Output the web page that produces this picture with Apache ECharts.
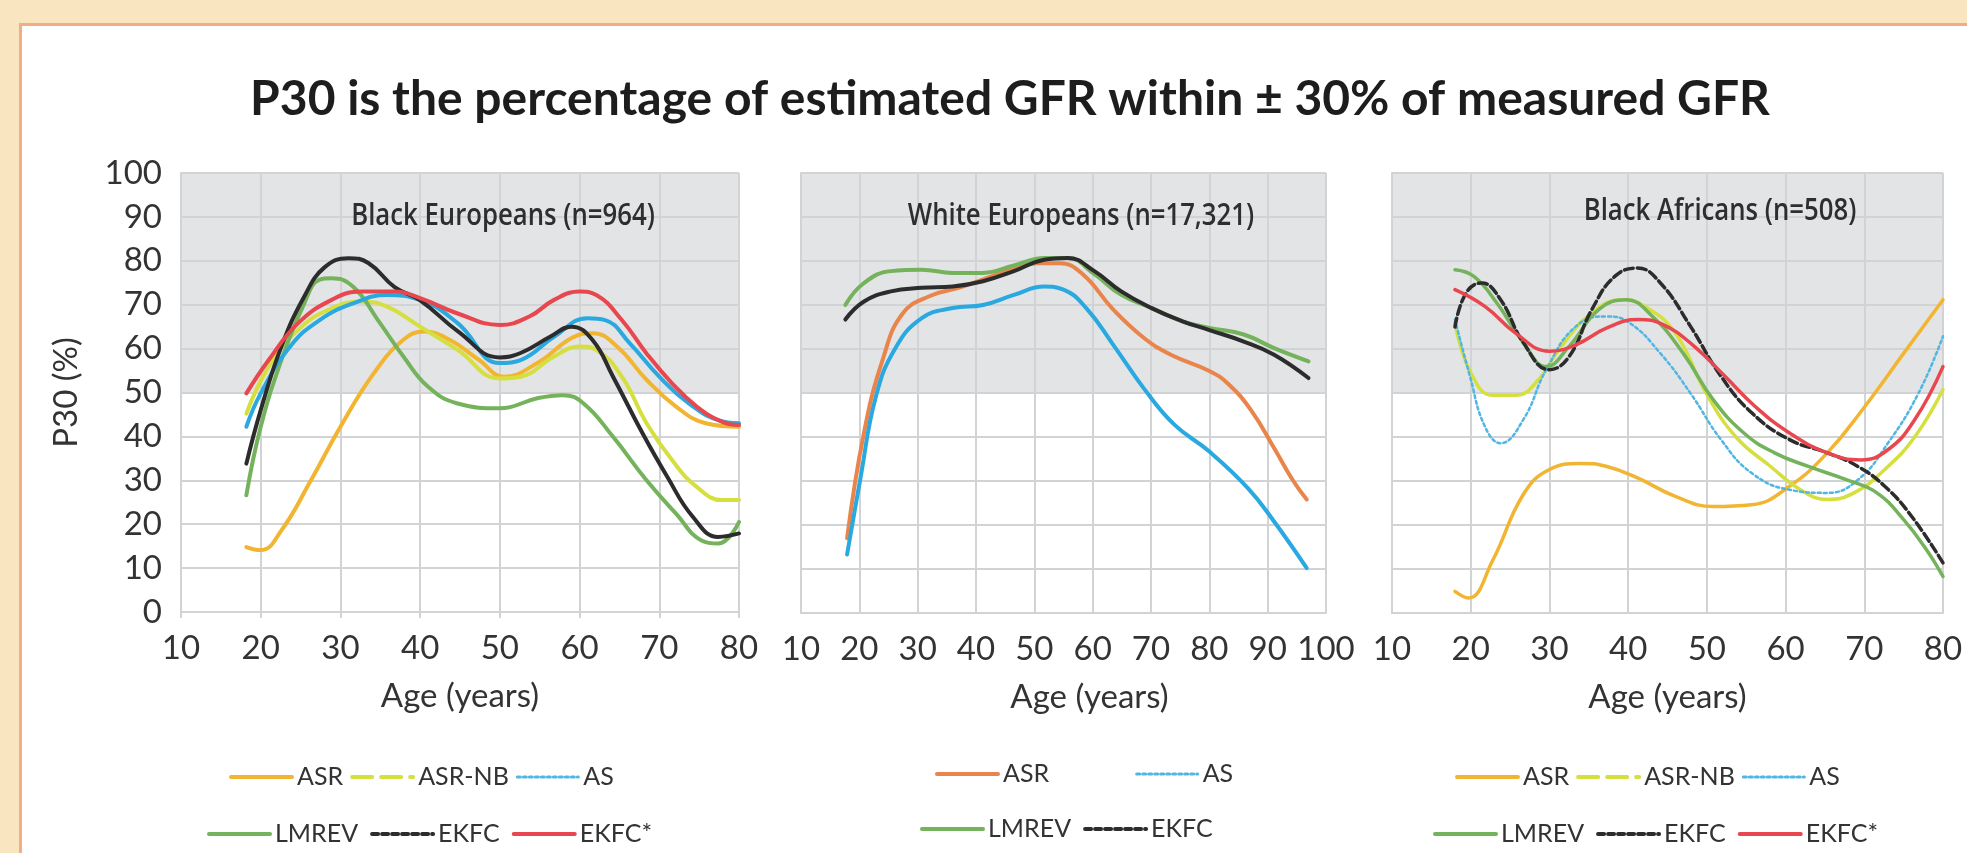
<!DOCTYPE html>
<html>
<head>
<meta charset="utf-8">
<title>P30 by age</title>
<script src="https://cdn.jsdelivr.net/npm/echarts@6/dist/echarts.min.js"></script>
<style>
  html, body { margin: 0; padding: 0; background: #ffffff; }
  #chart { width: 1967px; height: 853px; }
</style>
</head>
<body>
<div id="chart"></div>
<script>
// ---- Black Europeans (n=964): [age, P30 %] ----
const beASR    = [[18.2,14.8],[20,14.1],[22.6,18.6],[26.3,30],[30,42.2],[34.2,54.4],[37.9,62],[40.5,63.9],[43.7,62],[47.4,57.4],[50.5,53.6],[54.7,56.7],[59,62.4],[61.6,63.5],[64.7,60.5],[68.4,52.9],[72.1,46.8],[75.8,43],[80,42.2]];
const beASRNB  = [[18.2,45.2],[21,55.9],[24.7,64.3],[28.9,69.2],[32.6,70.7],[35.8,69.6],[40,65],[44.7,59.7],[50,53.2],[52.6,53.6],[56.8,58.2],[60,60.5],[62.1,59.7],[65.3,53.6],[68.4,43],[71.6,34.6],[74.7,28.5],[77.9,25.5],[80,25.5]];
const beAS     = [[18.2,42.2],[20,49.8],[23.7,60.5],[27.4,66.5],[31.6,70.3],[35.8,72.2],[40,71.1],[44.7,65.8],[50,56.7],[52.6,57.4],[56.8,62.7],[61,66.9],[63.2,66.5],[66.3,61.2],[70,53.6],[73.7,47.5],[77.4,43.7],[80,43]];
const beLMREV  = [[18.2,26.6],[20,42.2],[22.6,57.4],[25.3,69.6],[27.4,75.7],[28.9,76],[31.6,74.1],[34.7,66.5],[37.9,58.2],[41,51.3],[44.7,47.5],[50,46.4],[54.7,48.7],[57.9,49.4],[60.5,47.5],[64.2,39.9],[68.4,30],[72.1,22.4],[75.3,16.3],[77.4,15.6],[80,20.5]];
const beEKFC   = [[18.2,33.8],[20,46],[22.6,60.5],[25.5,72],[28,78.5],[31,80.6],[33.5,79.5],[36.8,74],[40,71],[44.7,64],[50,58],[52.6,59],[56.3,62.7],[59,65],[61.6,62],[64.2,53.6],[67.9,40.7],[71,30.8],[74.2,21.7],[77.4,17.1],[80,17.9]];
const beEKFCs  = [[18.2,49.8],[21,57.4],[24.7,65.8],[28.9,71.1],[32.6,73],[36.8,73],[40,71.5],[44.7,68],[50,65.4],[53.7,67.3],[56.8,71.1],[60,73],[62.1,72.2],[65.3,66.5],[68.4,58.9],[71.6,52.1],[74.7,46.8],[77.9,43.3],[80,42.6]];

// ---- White Europeans (n=17,321): [age, P30 %] ----
const weASR    = [[17.9,17],[20.8,41],[24.1,58],[27.4,68],[32,72],[37.3,74],[43.8,77],[50.4,79.5],[54.3,79.5],[58.3,77],[63.5,69],[68.8,62.5],[73.4,58.7],[80,55],[83.3,52],[87.2,46],[91.1,37.5],[94.4,30],[96.7,25.8]];
const weAS     = [[17.9,13.3],[20.2,30.7],[22.8,49],[26.1,60],[30.7,67],[36,69.3],[41.2,70],[46.5,72.3],[51.7,74.2],[55,73.5],[58.9,69.3],[63.5,61],[68.8,51],[74,42.8],[80,36.7],[86.6,28.4],[91.1,20.8],[96.7,10.2]];
const weLMREV  = [[17.6,70],[20.8,75],[25.4,77.7],[30.7,78],[36,77.3],[41.2,77.3],[46.5,79],[51.7,80.7],[55.7,80.7],[60.3,77],[64.9,72.3],[70.1,69.3],[75.4,66.3],[80,64.8],[85.9,63.3],[91.1,60.2],[97,57.2]];
const weEKFC   = [[17.6,66.7],[20.8,70.8],[25.4,73.1],[30.7,73.9],[36,74.2],[41.2,75.4],[46.5,77.7],[51.7,80.3],[55.7,80.7],[60.3,77.7],[64.9,73.1],[70.1,69.3],[75.4,66.3],[80,64.3],[85.9,61.7],[91.1,58.7],[97,53.4]];

// ---- Black Africans (n=508): [age, P30 %] ----
const baASR    = [[18,4.9],[19.7,3.4],[22.8,12],[26.7,27],[30,32.6],[33.9,34],[37.3,33.3],[41.2,30.7],[46,26.5],[50.8,24.2],[55.7,24.6],[60.5,28.8],[65.3,36.4],[70.1,47],[75,59],[80,71.2]];
const baASRNB  = [[18,66],[19.9,55],[22.8,49.5],[25.7,49.5],[28.6,53],[31.5,60.6],[35.4,68.2],[39.2,71.2],[42.1,69.7],[46,63.6],[49.9,50],[53.7,40],[58.1,33.3],[61.9,28],[65.3,25.8],[68.7,27.3],[72.6,32.6],[76.4,40],[80,50.8]];
const baAS     = [[18,66.7],[19.9,53.8],[21.8,42.4],[23.8,38.6],[26.7,44],[29.6,55.3],[33.4,65.2],[37.3,67.4],[40.2,65.9],[44.1,59],[47.9,50],[51.8,39.4],[55.7,31.8],[60.5,28],[65.3,27.3],[69.2,30.3],[73,38.6],[76.9,50],[80,62.9]];
const baLMREV  = [[18,78],[20.4,76.5],[23.3,70.5],[26.7,61.4],[29.6,56],[32.5,60.6],[36.3,69],[39.7,71.2],[43.1,67.4],[47,59],[50.8,48.5],[54.7,40.9],[58.6,36.4],[62.9,33.3],[67.7,30.3],[71.6,27.3],[75,21.2],[77.9,14.4],[80,8.3]];
const baEKFC   = [[18,65],[19.4,72.7],[21.4,75],[23.8,71.2],[26.7,61.4],[30,55.3],[32.5,58.3],[35.4,69],[38.3,76.5],[41.2,78.4],[44.1,75],[47.9,65.2],[51.8,53.8],[55.7,45.5],[60.5,39.4],[65.3,36.4],[69.2,33.3],[72.6,28.8],[76,22],[80,11.4]];
const baEKFCs  = [[18,73.5],[21.8,69.7],[25.7,63.6],[30,59.5],[33.4,61],[37.3,64.8],[41.2,66.7],[44.5,65.5],[48.4,60.6],[52.3,53.8],[56.1,47],[60.5,40.9],[65.3,36.4],[69.6,34.8],[73,37.1],[76.4,43.9],[80,56]];

// ---- text ----
const mainTitle   = 'P30 is the percentage of estimated GFR within \u00b1 30% of measured GFR';
const panelTitles = ['Black Europeans (n=964)', 'White Europeans (n=17,321)', 'Black Africans (n=508)'];
const xAxisName   = 'Age (years)';
const yAxisName   = 'P30 (%)';
const xRanges     = [[10, 80], [10, 100], [10, 80]];

// ---- styling ----
const C = {
  asr: '#f2b531', asrW: '#e9854a', asrnb: '#d5df3e', as: '#2aa8e0', asDot: '#52b6e3',
  lmrev: '#74b25c', ekfc: '#2c2c2c', ekfcs: '#e8474f',
  grid: '#d2d3d5', shade: '#e3e4e6', text: '#333333'
};
const FONT = 'Lato, "Noto Sans", sans-serif';

const grids = [
  { left: 181,  top: 173, width: 558, height: 439 },
  { left: 801,  top: 173, width: 525, height: 440 },
  { left: 1392, top: 173, width: 551, height: 440 }
];

function line(name, data, idx, color, width, type) {
  return {
    name, type: 'line', data, xAxisIndex: idx, yAxisIndex: idx,
    smooth: 0.45, symbol: 'none', showSymbol: false, silent: true,
    lineStyle: { color, width, type: type || 'solid', cap: 'round', join: 'round' },
    itemStyle: { color }, z: 3
  };
}

const series = [
  line('ASR',    beASR,   0, C.asr,   4),
  line('ASR-NB', beASRNB, 0, C.asrnb, 4),
  line('LMREV',  beLMREV, 0, C.lmrev, 4),
  line('AS',     beAS,    0, C.as,    4),
  line('EKFC',   beEKFC,  0, C.ekfc,  4),
  line('EKFC*',  beEKFCs, 0, C.ekfcs, 4),

  line('ASR',    weASR,   1, C.asrW,  4),
  line('LMREV',  weLMREV, 1, C.lmrev, 4),
  line('EKFC',   weEKFC,  1, C.ekfc,  4),
  line('AS',     weAS,    1, C.as,    4),

  line('ASR',    baASR,   2, C.asr,   3.5),
  line('ASR-NB', baASRNB, 2, C.asrnb, 3.5),
  line('AS',     baAS,    2, C.asDot, 2.5, [3, 3]),
  line('LMREV',  baLMREV, 2, C.lmrev, 3.5),
  line('EKFC',   baEKFC,  2, C.ekfc,  3.5, [9, 4]),
  line('EKFC*',  baEKFCs, 2, C.ekfcs, 3.5)
];

const xAxes = xRanges.map((r, i) => ({
  type: 'value', gridIndex: i, min: r[0], max: r[1], interval: 10,
  name: xAxisName, nameLocation: 'middle', nameGap: 68,
  nameTextStyle: { fontFamily: FONT, fontSize: 33, color: C.text, padding: i === 1 ? [0, 0, 0, 52] : 0 },
  axisLine: { show: true, lineStyle: { color: C.grid, width: 2 } },
  axisTick: { show: i === 0, length: 6, lineStyle: { color: C.grid, width: 2 } },
  axisLabel: { fontFamily: FONT, fontSize: 33, color: C.text, margin: 20 },
  splitLine: { show: true, lineStyle: { color: C.grid, width: 2 } }
}));

const bandColors = ['#ffffff', '#ffffff', '#ffffff', '#ffffff', '#ffffff', C.shade, C.shade, C.shade, C.shade, C.shade];
const yAxes = [0, 1, 2].map(i => ({
  type: 'value', gridIndex: i, min: 0, max: 100, interval: 10,
  name: i === 0 ? yAxisName : '', nameLocation: 'middle', nameGap: 98, nameRotate: 90,
  nameTextStyle: { fontFamily: FONT, fontSize: 33, color: C.text },
  axisLine: { show: true, lineStyle: { color: C.grid, width: 2 } },
  axisTick: { show: false },
  axisLabel: { show: i === 0, fontFamily: FONT, fontSize: 33, color: C.text, margin: 19 },
  splitLine: { show: true, lineStyle: { color: C.grid, width: 2 } },
  splitArea: { show: true, areaStyle: { color: bandColors } }
}));

// legends: line swatches only, no point marker
const legendText = { fontFamily: FONT, fontSize: 25, color: '#333333', lineHeight: 30 };
function legend(left, top, items, gap) {
  return {
    left, top, orient: 'horizontal', padding: 0, itemGap: gap || 7,
    itemWidth: 61, itemHeight: 14, selectedMode: false,
    itemStyle: { color: 'rgba(0,0,0,0)', borderColor: 'rgba(0,0,0,0)', borderWidth: 0 },
    lineStyle: { width: 4 },
    textStyle: legendText, data: items
  };
}
const asrNBIcon = { name: 'ASR-NB', lineStyle: { type: [20, 9], width: 4 } };
const asIcon    = { name: 'AS', lineStyle: { type: [3, 3], width: 3, color: C.asDot } };
const ekfcIcon  = { name: 'EKFC', lineStyle: { type: [6, 4], width: 4 } };

const legends = [
  legend(229, 762, ['ASR', asrNBIcon, asIcon]),
  legend(207, 819, ['LMREV', ekfcIcon, 'EKFC*'], 12),
  legend(935, 759, [{ name: 'ASR', lineStyle: { color: C.asrW } }, asIcon], 86),
  legend(920, 814, ['LMREV', ekfcIcon], 12),
  legend(1455, 762, ['ASR', asrNBIcon, asIcon]),
  legend(1433, 819, ['LMREV', ekfcIcon, 'EKFC*'], 12)
];

const titles = [
  { text: mainTitle, left: 1005, top: 71, textAlign: 'center',
    textStyle: { fontFamily: FONT, fontWeight: 'bold', fontSize: 48, color: '#1d1d1d' } }
];

// panel captions inside the plot areas (condensed)
const captionPos = [[503, 216], [1081, 216], [1720, 211]];
const captions = panelTitles.map((t, i) => ({
  type: 'text', x: captionPos[i][0], y: captionPos[i][1], scaleX: 0.83, z: 20,
  style: { text: t, font: '600 31px "Open Sans", "Noto Sans", sans-serif', fill: '#2e2e2e',
           align: 'center', verticalAlign: 'middle' }
}));

// page frame: beige margin with an orange rule along the top and left
const frame = [
  { type: 'rect', shape: { x: 0, y: 0, width: 1967, height: 23 }, style: { fill: '#f9e5c0' }, z: -10 },
  { type: 'rect', shape: { x: 0, y: 0, width: 19, height: 853 }, style: { fill: '#f9e5c0' }, z: -10 },
  { type: 'rect', shape: { x: 19, y: 23, width: 1948, height: 3 }, style: { fill: '#f1ad84' }, z: -9 },
  { type: 'rect', shape: { x: 19, y: 23, width: 3, height: 830 }, style: { fill: '#f1ad84' }, z: -9 }
];

const chart = echarts.init(document.getElementById('chart'), null, { renderer: 'canvas' });
chart.setOption({
  backgroundColor: '#ffffff',
  animation: false,
  title: titles,
  grid: grids,
  xAxis: xAxes,
  yAxis: yAxes,
  legend: legends,
  graphic: frame.concat(captions),
  series
});
</script>
</body>
</html>
